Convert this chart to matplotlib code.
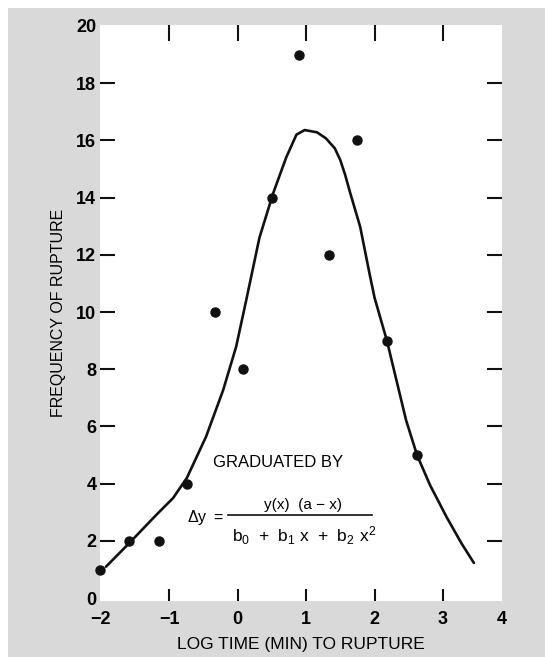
import matplotlib
matplotlib.use("Agg")
import matplotlib.pyplot as plt
from matplotlib.patches import Rectangle

# observed frequencies
log_time = [-2.0, -1.59, -1.15, -0.74, -0.33, 0.08, 0.50, 0.90, 1.33, 1.74, 2.18, 2.62]
frequency = [1, 2, 2, 4, 10, 8, 14, 19, 12, 16, 9, 5]

# graduated curve
curve_x = [-1.92, -1.59, -1.19, -0.94, -0.74, -0.46, -0.21, -0.02, 0.13, 0.32, 0.52,
           0.71, 0.86, 0.98, 1.16, 1.29, 1.42, 1.50, 1.57, 1.64, 1.79, 1.93, 2.00,
           2.18, 2.46, 2.62, 2.81, 3.05, 3.27, 3.45]
curve_y = [1.10, 1.90, 2.90, 3.50, 4.20, 5.64, 7.27, 8.79, 10.45, 12.6, 14.15,
           15.4, 16.2, 16.36, 16.28, 16.07, 15.72, 15.31, 14.8, 14.2, 12.98, 11.3, 10.5,
           9.0, 6.22, 5.0, 3.95, 2.84, 1.91, 1.23]

x_ticks = [-2, -1, 0, 1, 2, 3, 3.86]
x_labels = ["\u22122", "\u22121", "0", "1", "2", "3", "4"]
y_ticks = [0, 2, 4, 6, 8, 10, 12, 14, 16, 18, 20]

GRAY = "#d9d9d9"
INK = "#111111"
NARROW = ["Liberation Sans Narrow", "Liberation Sans", "DejaVu Sans"]
SANS = ["Liberation Sans", "DejaVu Sans"]

fig = plt.figure(figsize=(5.45, 6.57), dpi=100)
fig.patch.set_facecolor(GRAY)
# thin white margin at top and left of the scan
fig.patches.append(Rectangle((0, 1 - 8 / 657), 1, 8 / 657, transform=fig.transFigure,
                             facecolor="white", edgecolor="none", zorder=-1))
fig.patches.append(Rectangle((0, 0), 8 / 545, 1, transform=fig.transFigure,
                             facecolor="white", edgecolor="none", zorder=-1))

ax = fig.add_axes([0.1844, 0.0852, 0.7367, 0.8767])
ax.set_facecolor("white")
for s in ax.spines.values():
    s.set_visible(False)

ax.plot(curve_x, curve_y, color=INK, lw=1.9, solid_capstyle="round", solid_joinstyle="round")
ax.plot(log_time, frequency, "o", color=INK, ms=6.5, clip_on=False)

ax.set_xlim(-2, 3.86)
ax.set_ylim(-0.1, 20.03)

ax.set_xticks(x_ticks)
ax.set_xticklabels(x_labels, fontfamily=NARROW, fontweight="bold", fontsize=13)
ax.set_yticks(y_ticks)
ax.set_yticklabels([str(v) for v in y_ticks], fontfamily=NARROW, fontweight="bold", fontsize=13)
ax.tick_params(axis="x", direction="in", length=8.5, width=1.5, color=INK, pad=7,
               bottom=True, top=False)
ax.tick_params(axis="y", direction="in", length=11, width=1.5, color=INK, pad=3,
               left=True, right=True)
for t in [ax.xaxis.get_major_ticks()[0], ax.xaxis.get_major_ticks()[-1]]:
    t.tick1line.set_visible(False)
for t in [ax.yaxis.get_major_ticks()[0], ax.yaxis.get_major_ticks()[-1]]:
    t.tick1line.set_visible(False)
    t.tick2line.set_visible(False)

top = ax.secondary_xaxis("top")
top.set_xticks([-1, 0, 1, 2, 3])
top.tick_params(direction="in", length=11.5, width=1.5, color=INK, labeltop=False)
for s in top.spines.values():
    s.set_visible(False)

ax.set_xlabel("LOG TIME (MIN) TO RUPTURE", fontfamily=SANS, fontsize=12.5, labelpad=7)
ax.set_ylabel("FREQUENCY OF RUPTURE", fontfamily=SANS, fontsize=11.5, labelpad=7)

# formula annotation
ax.text(0.59, 4.74, "GRADUATED BY", fontfamily=SANS, fontsize=12, ha="center", va="center")
ax.text(-0.46, 2.83, r"$\mathregular{\Delta y\ =}$", fontsize=11.5, ha="center", va="center",
        fontfamily=SANS)
ax.plot([-0.14, 1.96], [2.9, 2.9], color=INK, lw=1.2)
ax.text(0.95, 3.25, "y(x)  (a \u2212 x)", fontfamily=SANS, fontsize=11, ha="center", va="center")
ax.text(0.98, 2.2, r"$\mathregular{b_0\ +\ b_1\ x\ +\ b_2\ x^2}$", fontfamily=SANS,
        fontsize=12.5, ha="center", va="center")

fig.savefig("out.png", dpi=100, facecolor=fig.get_facecolor())
